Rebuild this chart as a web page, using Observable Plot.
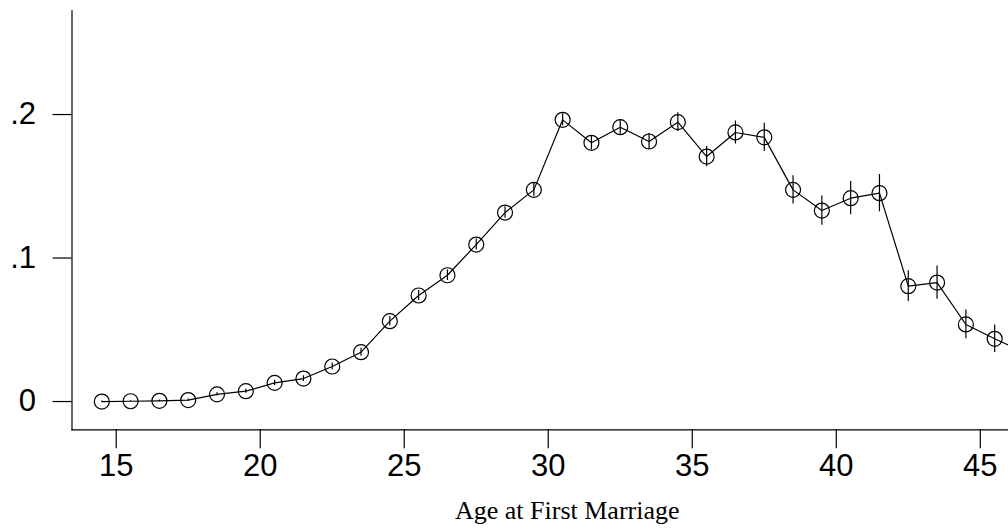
<!DOCTYPE html>
<html>
<head>
<meta charset="utf-8">
<script src="https://cdn.jsdelivr.net/npm/d3@7"></script>
<script src="https://cdn.jsdelivr.net/npm/@observablehq/plot@0.6"></script>
<style>
  html, body { margin: 0; padding: 0; background: #fff; }
  #chart svg { display: block; }
  #chart svg g[aria-label="x-axis tick label"] text,
  #chart svg g[aria-label="y-axis tick label"] text { font-size: 31px; }
</style>
</head>
<body>
<div id="chart"></div>
<script>
// Age at first marriage (bin midpoints)
const ages = [14.5, 15.5, 16.5, 17.5, 18.5, 19.5, 20.5, 21.5, 22.5, 23.5,
              24.5, 25.5, 26.5, 27.5, 28.5, 29.5, 30.5, 31.5, 32.5, 33.5,
              34.5, 35.5, 36.5, 37.5, 38.5, 39.5, 40.5, 41.5, 42.5, 43.5,
              44.5, 45.5, 46.5];
// Estimated values
const values = [0.0000, 0.0002, 0.0005, 0.0010, 0.0050, 0.0072, 0.0130, 0.0160, 0.0244, 0.0344,
                0.0560, 0.0739, 0.0880, 0.1094, 0.1317, 0.1475, 0.1963, 0.1803, 0.1912, 0.1812,
                0.1947, 0.1707, 0.1875, 0.1841, 0.1475, 0.1331, 0.1417, 0.1452, 0.0804, 0.0829,
                0.0537, 0.0437, 0.0347];
// Half-width of the vertical error bars
const errors = [0.0003, 0.0004, 0.0006, 0.0008, 0.0012, 0.0014, 0.0018, 0.0020, 0.0024, 0.0028,
                0.0033, 0.0035, 0.0036, 0.0038, 0.0040, 0.0044, 0.0042, 0.0050, 0.0050, 0.0056,
                0.0066, 0.0070, 0.0080, 0.0098, 0.0098, 0.0102, 0.0116, 0.0130, 0.0107, 0.0116,
                0.0100, 0.0096, 0.0096];
const yTicks = [0, 0.1, 0.2];
const yTickLabels = ["0", ".1", ".2"];
const xTicks = [15, 20, 25, 30, 35, 40, 45];
const xLabel = "Age at First Marriage";

const data = ages.map((a, i) => ({age: a, v: values[i], lo: values[i] - errors[i], hi: values[i] + errors[i]}));

const chart = Plot.plot({
  width: 1008,
  height: 530,
  marginTop: 10,
  marginBottom: 100.7,
  marginLeft: 71.5,
  marginRight: 0,
  style: {fontFamily: "'Liberation Sans', Arial, sans-serif", fontSize: "31px", background: "#fff", color: "#000"},
  x: {domain: [13.465, 45.98]},
  y: {domain: [-0.0197, 0.2725]},
  marks: [
    Plot.frame({anchor: "left", stroke: "#000", strokeWidth: 1.2}),
    Plot.frame({anchor: "bottom", stroke: "#000", strokeWidth: 1.2}),
    Plot.axisY({ticks: yTicks, tickFormat: (d) => yTickLabels[yTicks.indexOf(d)], tickSize: 19, tickPadding: 17,
                fontSize: 31, label: null, stroke: "#000", strokeWidth: 1.2, strokeOpacity: 1, fill: "#000"}),
    Plot.axisX({ticks: xTicks, tickFormat: (d) => String(d), tickSize: 19, tickPadding: 5,
                fontSize: 31, label: null, stroke: "#000", strokeWidth: 1.2, strokeOpacity: 1, fill: "#000"}),
    Plot.line(data, {x: "age", y: "v", stroke: "#000", strokeWidth: 1.2, clip: true}),
    Plot.ruleX(data, {x: "age", y1: "lo", y2: "hi", stroke: "#000", strokeWidth: 1.2, clip: true}),
    Plot.dot(data, {x: "age", y: "v", r: 7.5, stroke: "#000", strokeWidth: 1.2, fill: "none", clip: true}),
    Plot.text([xLabel], {frameAnchor: "bottom", dx: 27, dy: 89, lineAnchor: "bottom", textAnchor: "middle",
                          fontSize: 26, fontFamily: "'Liberation Serif', 'Times New Roman', serif", fill: "#000"})
  ]
});
document.getElementById("chart").appendChild(chart);
</script>
</body>
</html>
